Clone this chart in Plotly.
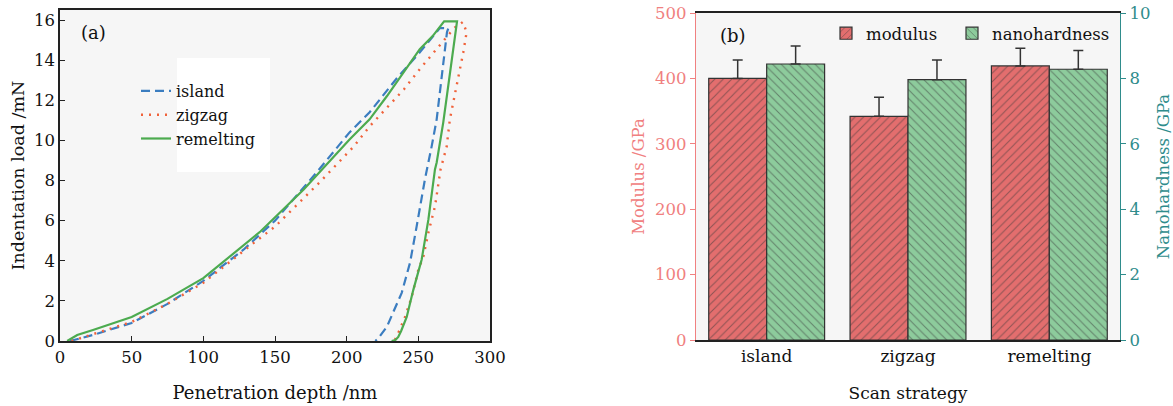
import plotly.graph_objects as go

# ---------------- Panel (a): load-displacement curves ----------------
island_x = [7, 23, 50, 75, 100, 128, 150, 179, 202, 216, 235, 250, 265, 271,
            270, 266.3, 262.8, 259.3, 254.7, 248.8, 244.2, 238.4, 232.6, 228, 222, 220]
island_y = [0, 0.3, 0.9, 1.85, 3.0, 4.55, 6.0, 8.4, 10.4, 11.4, 13.1, 14.3, 15.6, 15.6,
            15.4, 13.05, 11.05, 9.7, 8.1, 5.7, 3.9, 2.4, 1.4, 0.7, 0.13, 0]

zigzag_x = [8, 23, 50, 75, 100, 135, 150, 181, 205, 216, 228, 240, 251, 263, 275, 281,
            283.7, 281.4, 278, 275.6, 272, 269.8, 265.5, 261.6, 257, 253.5, 250, 245.4,
            240.7, 236, 233.3]
zigzag_y = [0, 0.35, 0.95, 1.85, 2.9, 4.88, 5.7, 7.9, 9.7, 10.7, 11.6, 12.55, 13.55, 14.6, 15.6, 15.9,
            15.4, 14.4, 13.2, 12.2, 11.05, 9.7, 8.55, 6.7, 5.4, 4.2, 3.55, 2.2,
            1.2, 0.4, 0]

remelt_x = [5, 12, 23, 50, 75, 100, 140, 170, 202, 216, 228, 240, 251, 260, 268, 277,
            272, 267.4, 262.8, 261.6, 257, 252.3, 246.5, 241.9, 238, 236, 234, 231.4]
remelt_y = [0, 0.3, 0.55, 1.2, 2.1, 3.13, 5.47, 7.55, 10.05, 11.05, 12.2, 13.4, 14.55, 15.2, 15.93, 15.93,
            13.2, 10.9, 8.9, 8.55, 6.05, 4.05, 2.55, 1.2, 0.5, 0.2, 0.05, 0]

# ---------------- Panel (b): bar chart ----------------
strategies = ["island", "zigzag", "remelting"]
modulus = [400, 342, 419]
modulus_err = [28, 29, 27]
hardness = [8.44, 7.96, 8.28]
hardness_err = [0.55, 0.6, 0.57]

FONT = "DejaVu Serif"
PINK = "#f08080"
TEAL = "#2f8c8c"

fig = go.Figure()

fig.add_trace(go.Scatter(x=island_x, y=island_y, mode="lines", name="island",
                         line=dict(color="#3b7dc0", width=2.2, dash="9px,5px"),
                         xaxis="x", yaxis="y"))
fig.add_trace(go.Scatter(x=zigzag_x, y=zigzag_y, mode="lines", name="zigzag",
                         line=dict(color="#f0623a", width=2.4, dash="2px,6px"),
                         xaxis="x", yaxis="y"))
fig.add_trace(go.Scatter(x=remelt_x, y=remelt_y, mode="lines", name="remelting",
                         line=dict(color="#4cab4f", width=2.2),
                         xaxis="x", yaxis="y"))

fig.add_trace(go.Bar(x=strategies, y=modulus, name="modulus",
                     width=0.41, offset=-0.41,
                     marker=dict(color="#e36e6e", line=dict(color="#333333", width=1.2),
                                 pattern=dict(shape="/", fgcolor="#3a3a3a", bgcolor="#e36e6e",
                                              size=6, solidity=0.18)),
                     error_y=dict(type="data", symmetric=False, array=modulus_err,
                                  arrayminus=[0, 0, 0], color="#333333", thickness=1.5, width=5),
                     xaxis="x2", yaxis="y2", legend="legend2"))
fig.add_trace(go.Bar(x=strategies, y=hardness, name="nanohardness",
                     width=0.41, offset=0,
                     marker=dict(color="#8dcb9c", line=dict(color="#333333", width=1.2),
                                 pattern=dict(shape="\\", fgcolor="#3a3a3a", bgcolor="#8dcb9c",
                                              size=6, solidity=0.18)),
                     error_y=dict(type="data", symmetric=False, array=hardness_err,
                                  arrayminus=[0, 0, 0], color="#333333", thickness=1.5, width=5),
                     xaxis="x2", yaxis="y3", legend="legend3"))

W, H = 1173, 406
def px_x(p):
    return p / W
def px_y(p):
    return 1 - p / H

tickfont = dict(family=FONT, size=16.5, color="#111111")
titlefont = dict(family=FONT, size=17.5, color="#111111")
legfont = dict(family=FONT, size=16.5, color="#111")

fig.update_layout(
    width=W, height=H,
    margin=dict(l=0, r=0, t=0, b=0),
    paper_bgcolor="white",
    plot_bgcolor="#f6f6f6",
    font=dict(family=FONT, size=16, color="#111111"),
    barmode="overlay",
    xaxis=dict(domain=[px_x(60), px_x(490)], range=[0, 300], tickvals=[0, 50, 100, 150, 200, 250, 300],
               ticks="inside", ticklen=5, tickcolor="#222", showline=True, linecolor="#222",
               linewidth=1.5, mirror=True, showgrid=False, zeroline=False, tickfont=tickfont,
               ticklabeloverflow="allow",
               title=dict(text="Penetration depth /nm", font=dict(family=FONT, size=18, color="#111"),
                          standoff=21),
               automargin=False, anchor="y"),
    yaxis=dict(domain=[px_y(341), px_y(10)], range=[0, 16.5], tickvals=[0, 2, 4, 6, 8, 10, 12, 14, 16],
               ticks="inside", ticklen=5, tickcolor="#222", showline=True, linecolor="#222",
               linewidth=1.5, mirror=True, showgrid=False, zeroline=False, tickfont=tickfont,
               ticklabeloverflow="allow",
               title=dict(text="Indentation load /mN", font=titlefont, standoff=5),
               automargin=False, anchor="x"),
    xaxis2=dict(domain=[px_x(696), px_x(1120)], range=[-0.5, 2.5], type="category",
                ticks="", showline=True, linecolor="#222", linewidth=1.5, mirror=True,
                showgrid=False, zeroline=False, tickfont=dict(family=FONT, size=17, color="#111"),
                ticklabeloverflow="allow",
                title=dict(text="Scan strategy", font=dict(family=FONT, size=17, color="#111"),
                           standoff=22),
                automargin=False, anchor="y2"),
    yaxis2=dict(domain=[px_y(340), px_y(13)], range=[0, 500], tickvals=[0, 100, 200, 300, 400, 500],
                ticks="outside", ticklen=5, tickcolor=PINK, showline=True, linecolor=PINK,
                linewidth=1.2, showgrid=False, zeroline=False,
                tickfont=dict(family=FONT, size=16.5, color=PINK),
                ticklabeloverflow="allow",
                title=dict(text="Modulus /GPa", font=dict(family=FONT, size=16.5, color=PINK), standoff=6),
                automargin=False, anchor="x2"),
    yaxis3=dict(overlaying="y2", side="right", range=[0, 10], tickvals=[0, 2, 4, 6, 8, 10],
                ticks="outside", ticklen=5, tickcolor=TEAL, showline=True, linecolor=TEAL,
                linewidth=1.2, showgrid=False, zeroline=False,
                tickfont=dict(family=FONT, size=16.5, color=TEAL),
                ticklabeloverflow="allow",
                title=dict(text="Nanohardness /GPa", font=dict(family=FONT, size=16.5, color=TEAL), standoff=8),
                automargin=False, anchor="x2"),
    legend=dict(x=px_x(136), y=px_y(74), xanchor="left", yanchor="top",
                bgcolor="rgba(0,0,0,0)", font=dict(family=FONT, size=16, color="#111"),
                tracegroupgap=0),
    legend2=dict(x=px_x(826), y=px_y(16), xanchor="left", yanchor="top",
                 bgcolor="rgba(0,0,0,0)", font=legfont),
    legend3=dict(x=px_x(952), y=px_y(16), xanchor="left", yanchor="top",
                 bgcolor="rgba(0,0,0,0)", font=legfont),
    shapes=[dict(type="rect", xref="paper", yref="paper",
                 x0=px_x(177), x1=px_x(270), y0=px_y(172), y1=px_y(58),
                 fillcolor="white", line=dict(width=0), layer="below")],
    annotations=[
        dict(text="(a)", x=px_x(93), y=px_y(33), xref="paper", yref="paper", showarrow=False,
             xanchor="center", yanchor="middle",
             font=dict(family=FONT, size=18, color="#111")),
        dict(text="(b)", x=px_x(733), y=px_y(35), xref="paper", yref="paper", showarrow=False,
             xanchor="center", yanchor="middle",
             font=dict(family=FONT, size=18, color="#111")),
    ],
)

# remove the browser's default 8px body margin so the figure fills the window exactly
fig.write_html("out.html", config={"displayModeBar": False},
               post_script="document.body.style.margin='0px';")
